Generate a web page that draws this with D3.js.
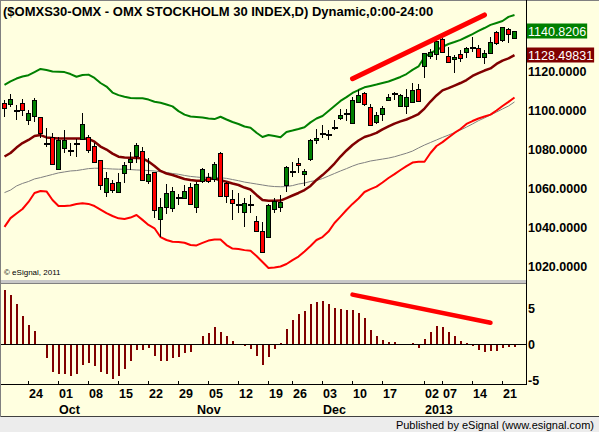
<!DOCTYPE html>
<html>
<head>
<meta charset="utf-8">
<script src="https://cdn.jsdelivr.net/npm/d3@7"></script>
<style>
html, body { margin: 0; padding: 0; background: #fff; }
svg { display: block; font-family: "Liberation Sans", Arial, sans-serif; }
</style>
</head>
<body>
<svg id="chart" width="599" height="432"></svg>
<script>
// trading days shown on the chart
const dates = [
  "2012-09-18","2012-09-19","2012-09-20","2012-09-21",
  "2012-09-24","2012-09-25","2012-09-26","2012-09-27","2012-09-28",
  "2012-10-01","2012-10-02","2012-10-03","2012-10-04","2012-10-05",
  "2012-10-08","2012-10-09","2012-10-10","2012-10-11","2012-10-12",
  "2012-10-15","2012-10-16","2012-10-17","2012-10-18","2012-10-19",
  "2012-10-22","2012-10-23","2012-10-24","2012-10-25","2012-10-26",
  "2012-10-29","2012-10-30","2012-10-31","2012-11-01","2012-11-02",
  "2012-11-05","2012-11-06","2012-11-07","2012-11-08","2012-11-09",
  "2012-11-12","2012-11-13","2012-11-14","2012-11-15","2012-11-16",
  "2012-11-19","2012-11-20","2012-11-21","2012-11-23",
  "2012-11-26","2012-11-27","2012-11-28","2012-11-29","2012-11-30",
  "2012-12-03","2012-12-04","2012-12-05","2012-12-06","2012-12-07",
  "2012-12-10","2012-12-11","2012-12-12","2012-12-13","2012-12-14",
  "2012-12-17","2012-12-18","2012-12-19","2012-12-20","2012-12-21",
  "2012-12-27","2012-12-28",
  "2013-01-02","2013-01-03","2013-01-04",
  "2013-01-07","2013-01-08","2013-01-09","2013-01-10","2013-01-11",
  "2013-01-14","2013-01-15","2013-01-16","2013-01-17","2013-01-18",
  "2013-01-21","2013-01-22","2013-01-23"
];

const opens = [
  1104.0,1103.4,1100.9,1104.1,1095.2,1097.3,1096.6,1083.7,1086.7,1069.9,
  1080.7,1079.9,1083.7,1085.5,1086.7,1081.9,1074.7,1058.3,1063.1,1058.5,
  1068.2,1073.8,1076.9,1079.3,1064.1,1068.4,1044.3,1050.5,1050.5,1055.7,
  1055.6,1061.0,1050.5,1063.6,1066.2,1064.8,1078.2,1062.8,1054.6,1052.2,
  1048.2,1052.2,1043.6,1038.5,1035.4,1049.9,1050.8,1062.3,1069.3,1073.0,
  1067.9,1075.1,1084.6,1088.8,1088.5,1091.9,1096.1,1098.8,1093.8,1104.6,
  1109.2,1102.1,1094.4,1098.3,1105.8,1109.3,1102.4,1102.4,1104.6,1111.0,
  1122.6,1128.1,1129.1,1136.6,1128.1,1126.4,1129.1,1129.7,1132.9,1132.0,
  1127.4,1129.7,1140.5,1135.9,1141.7,1137.1
];
const highs = [
  1105.5,1108.4,1102.9,1105.8,1100.4,1106.4,1096.8,1091.0,1088.4,1086.4,
  1090.1,1083.3,1085.3,1098.7,1087.5,1083.3,1074.9,1068.7,1064.5,1067.9,
  1073.8,1079.0,1083.3,1081.5,1075.6,1068.7,1055.1,1062.4,1061.0,1057.3,
  1061.9,1063.1,1063.6,1070.5,1067.9,1073.8,1079.0,1063.6,1059.3,1057.6,
  1055.1,1056.8,1046.0,1043.1,1052.1,1055.1,1056.8,1071.6,1073.8,1075.6,
  1069.9,1085.3,1090.5,1092.7,1090.1,1095.2,1100.7,1100.7,1106.9,1110.6,
  1109.7,1103.4,1099.5,1102.4,1108.6,1109.7,1108.6,1111.0,1114.0,1113.7,
  1129.7,1131.5,1136.6,1137.1,1132.8,1128.6,1131.1,1132.8,1137.6,1133.7,
  1131.1,1137.6,1141.0,1143.1,1142.3,1141.0
];
const lows = [
  1096.6,1102.0,1095.2,1097.3,1092.7,1094.4,1085.8,1081.2,1072.1,1069.7,
  1078.2,1076.8,1076.4,1085.0,1078.5,1073.3,1059.3,1055.9,1057.6,1058.3,
  1063.1,1069.6,1073.0,1064.3,1062.4,1044.8,1035.4,1047.0,1048.2,1051.6,
  1054.6,1052.1,1047.7,1062.8,1063.1,1063.6,1056.2,1052.8,1043.9,1047.7,
  1040.5,1047.4,1037.9,1026.9,1035.1,1047.7,1048.2,1058.5,1065.8,1068.2,
  1061.4,1074.4,1082.9,1085.8,1085.0,1090.1,1095.2,1094.9,1093.2,1103.8,
  1102.4,1092.2,1093.2,1094.9,1105.5,1105.5,1102.1,1098.3,1104.1,1104.6,
  1116.6,1126.4,1126.0,1129.4,1124.3,1119.2,1125.1,1126.9,1130.3,1126.9,
  1123.9,1129.4,1133.7,1135.4,1134.9,1136.6
];
const closes = [
  1101.2,1105.8,1100.6,1100.4,1099.0,1105.5,1088.4,1083.5,1072.7,1085.0,
  1085.0,1079.7,1083.5,1093.0,1080.2,1073.8,1061.9,1065.3,1059.3,1063.6,
  1072.2,1075.2,1082.4,1064.5,1067.5,1048.7,1050.5,1057.6,1059.0,1055.5,
  1059.0,1052.5,1062.3,1069.9,1064.1,1072.7,1056.3,1055.9,1052.5,1052.0,
  1052.8,1052.0,1038.5,1027.7,1051.6,1053.8,1053.3,1071.3,1069.1,1071.8,
  1069.2,1085.0,1085.8,1088.6,1088.3,1091.7,1097.8,1098.6,1105.5,1108.0,
  1103.4,1092.7,1097.8,1101.2,1107.2,1109.1,1108.0,1107.2,1110.6,1105.1,
  1129.4,1130.3,1135.9,1129.7,1125.1,1127.4,1126.9,1132.0,1132.7,1127.4,
  1129.7,1135.4,1134.9,1142.8,1139.3,1140.8206
];

// Bollinger bands and the slower average
const upperBand = [
  1113.2,1115.0,1116.5,1117.5,1118.2,1119.8,1121.4,1120.9,1120.1,1120.0,
  1119.8,1118.8,1117.4,1118.3,1118.5,1116.8,1114.2,1112.4,1109.3,1108.0,
  1107.2,1106.5,1106.4,1106.4,1105.7,1104.6,1104.1,1103.2,1102.2,1099.8,
  1098.0,1097.0,1096.8,1096.5,1096.0,1095.7,1096.9,1095.5,1094.2,1093.2,
  1091.9,1091.3,1088.7,1086.5,1087.5,1087.0,1086.4,1089.1,1089.8,1090.6,
  1091.5,1094.0,1096.0,1097.3,1099.8,1102.4,1105.0,1107.0,1109.1,1110.6,
  1112.0,1112.7,1113.4,1114.2,1115.0,1116.1,1117.3,1118.8,1120.9,1122.7,
  1127.5,1129.6,1131.1,1132.7,1134.2,1135.2,1136.3,1137.8,1139.3,1140.9,
  1142.4,1144.0,1145.0,1146.0,1148.1,1149.1
];
const midBand = [
  1076.5,1078.3,1081.1,1083.4,1085.0,1087.0,1087.5,1086.3,1086.0,1085.8,
  1085.8,1085.8,1085.8,1085.8,1085.5,1084.1,1081.6,1080.1,1078.0,1076.4,
  1076.0,1075.9,1075.7,1075.6,1073.9,1071.6,1069.1,1067.8,1067.0,1066.0,
  1065.0,1064.5,1064.1,1064.1,1065.0,1065.2,1064.3,1063.6,1062.7,1061.9,
  1060.6,1059.6,1056.8,1054.2,1053.8,1053.8,1053.9,1055.2,1056.5,1057.8,
  1059.3,1061.4,1064.5,1067.0,1069.8,1072.9,1076.5,1079.6,1082.4,1084.7,
  1086.5,1087.5,1088.6,1090.4,1091.9,1093.4,1094.5,1095.5,1096.8,1098.3,
  1101.1,1104.7,1107.8,1110.4,1111.6,1112.9,1114.2,1115.7,1117.8,1119.3,
  1120.6,1121.7,1124.0,1125.7,1126.8,1128.49831
];
const lowerBand = [
  1040.4,1044.9,1047.3,1049.6,1053.2,1057.8,1058.8,1058.6,1054.2,1051.1,
  1051.1,1051.4,1052.2,1052.5,1052.2,1051.1,1049.3,1047.5,1046.0,1044.8,
  1044.5,1045.2,1046.5,1044.0,1041.4,1039.7,1035.2,1033.7,1032.8,1032.7,
  1032.3,1031.1,1030.9,1032.2,1033.4,1034.0,1034.0,1031.1,1029.3,1029.1,
  1028.5,1028.2,1025.5,1022.4,1019.3,1019.6,1020.1,1021.4,1023.4,1025.2,
  1027.8,1030.6,1033.7,1035.2,1038.0,1042.4,1045.7,1049.1,1052.2,1055.0,
  1058.3,1059.8,1061.1,1063.2,1065.5,1067.5,1069.6,1071.6,1073.4,1073.8,
  1073.8,1078.3,1081.9,1083.9,1086.3,1088.6,1090.6,1093.2,1094.7,1096.0,
  1097.0,1098.0,1100.1,1102.4,1104.5,1106.8
];
const slowMA = [
  1058.0,1059.3,1061.4,1062.7,1063.7,1065.0,1065.7,1066.5,1067.3,1068.1,
  1068.6,1069.1,1069.3,1069.8,1070.3,1070.5,1070.5,1070.3,1070.1,1070.0,
  1070.0,1069.8,1069.6,1069.5,1069.3,1069.1,1068.7,1068.3,1067.8,1067.4,
  1066.8,1066.3,1066.0,1065.7,1066.0,1065.7,1065.6,1065.3,1064.7,1064.1,
  1063.4,1062.9,1062.4,1061.9,1061.4,1061.1,1061.0,1061.1,1061.6,1062.4,
  1062.9,1063.7,1064.2,1065.2,1066.5,1067.8,1069.1,1070.3,1071.6,1072.7,
  1073.4,1074.2,1074.7,1075.2,1075.7,1076.4,1077.3,1078.2,1079.3,1080.9,
  1082.4,1083.7,1085.0,1086.3,1087.5,1088.8,1090.1,1091.6,1093.2,1094.9,
  1096.3,1097.8,1099.3,1100.9,1102.4,1104.5
];

// lower panel oscillator
const histo = [
  7.6,6.9,5.6,4.0,2.7,1.8,-0.2,-2.0,-3.9,-4.2,
  -4.2,-4.4,-4.1,-2.85,-2.7,-3.0,-3.9,-4.2,-4.8,-4.5,
  -3.5,-2.3,-0.8,-0.8,-0.5,-1.7,-2.4,-2.3,-2.0,-1.85,
  -1.3,-1.15,-0.2,1.15,1.6,2.4,1.7,1.15,0.45,0.05,
  -0.3,-0.65,-1.6,-2.95,-1.85,-0.65,0.2,2.1,3.35,4.2,
  4.6,5.55,5.85,6.0,5.55,5.1,4.95,4.7,4.7,4.4,
  3.6,2.0,1.15,0.6,0.4,0.3,0.1,0.0,0.2,-0.5,
  0.8,1.65,2.55,2.35,1.65,1.15,0.45,0.2,-0.25,-0.9,
  -1.15,-1.0,-1.0,-0.55,-0.45,-0.35
];

// hand drawn trend lines
const trendPriceDates = ["2012-12-10", "2013-01-16"];
const trendPriceVals = [1116.4, 1149.1];
const trendOscDates = ["2012-12-10", "2013-01-17"];
const trendOscVals = [6.9, 3.0];

// axis ticks
const priceTicks = [1020, 1040, 1060, 1080, 1100, 1120];
const oscTicks = [5, 0, -5];
const dayTicks = ["2012-09-24","2012-10-01","2012-10-08","2012-10-15","2012-10-22","2012-10-29",
  "2012-11-05","2012-11-12","2012-11-19","2012-11-26","2012-12-03","2012-12-10","2012-12-17",
  "2013-01-02","2013-01-07","2013-01-14","2013-01-21"];
const monthTicks = ["2012-10-01","2012-11-01","2012-12-03","2013-01-02"];
const monthLabels = ["Oct","Nov","Dec","2013"];

const svg = d3.select("#chart");
const W = 599, H = 432;
const plotR = 526;

const x = d3.scalePoint().domain(dates).range([4.5, 514.5]);
const y = d3.scaleLinear().domain([1020, 1120]).range([266.7, 71.7]);
const yo = d3.scaleLinear().domain([-5, 5]).range([380.5, 308.3]);

// background
svg.append("rect").attr("width", W).attr("height", H).attr("fill", "#ffffe0");
svg.append("rect").attr("x", 0).attr("y", 417).attr("width", W).attr("height", 15).attr("fill", "#ececec");
svg.append("line").attr("x1", 0).attr("x2", W).attr("y1", 416.5).attr("y2", 416.5)
  .attr("stroke", "#404040").attr("shape-rendering", "crispEdges");
svg.append("line").attr("x1", 0.5).attr("x2", 0.5).attr("y1", 0).attr("y2", 417)
  .attr("stroke", "#808080").attr("shape-rendering", "crispEdges");
svg.append("line").attr("x1", 0).attr("x2", W).attr("y1", 0.5).attr("y2", 0.5)
  .attr("stroke", "#808080").attr("shape-rendering", "crispEdges");

// panel separator
svg.append("rect").attr("x", 1).attr("y", 280).attr("width", plotR - 1).attr("height", 3).attr("fill", "#c8c8c8");
svg.append("line").attr("x1", 1).attr("x2", plotR).attr("y1", 283.5).attr("y2", 283.5)
  .attr("stroke", "#808080").attr("shape-rendering", "crispEdges");

svg.append("clipPath").attr("id", "mainClip")
  .append("rect").attr("x", 1).attr("y", 1).attr("width", plotR - 1).attr("height", 279);

const main = svg.append("g").attr("clip-path", "url(#mainClip)");

// lines
function drawLine(vals, color, width) {
  const line = d3.line().x((d, i) => x(dates[i])).y(d => y(d));
  main.append("path").datum(vals)
    .attr("d", line)
    .attr("fill", "none")
    .attr("stroke", color)
    .attr("stroke-width", width)
    .attr("stroke-linejoin", "round");
}
drawLine(slowMA, "#808080", 1);
drawLine(upperBand, "#008000", 2);
drawLine(lowerBand, "#ff0000", 2);
drawLine(midBand, "#800000", 2.5);

// candles
const bars = dates.map((d, i) => ({ d: d, o: opens[i], h: highs[i], l: lows[i], c: closes[i] }));
const candle = main.append("g").selectAll("g").data(bars).join("g");
candle.append("line")
  .attr("x1", d => x(d.d)).attr("x2", d => x(d.d))
  .attr("y1", d => Math.round(y(d.h))).attr("y2", d => Math.round(y(d.l)))
  .attr("stroke", "#000").attr("shape-rendering", "crispEdges");
candle.filter(d => Math.abs(d.c - d.o) >= 0.5).append("rect")
  .attr("x", d => x(d.d) - 2)
  .attr("y", d => Math.round(y(Math.max(d.o, d.c))) + 0.5)
  .attr("width", 4)
  .attr("height", d => Math.max(1, Math.round(Math.abs(y(d.o) - y(d.c)))))
  .attr("fill", d => d.c > d.o ? "#008000" : "#ff0000")
  .attr("stroke", "#000").attr("shape-rendering", "crispEdges");
candle.filter(d => Math.abs(d.c - d.o) < 0.5).append("line")
  .attr("x1", d => x(d.d) - 2.5).attr("x2", d => x(d.d) + 3)
  .attr("y1", d => Math.round(y(d.c)) + 0.5).attr("y2", d => Math.round(y(d.c)) + 0.5)
  .attr("stroke", "#000").attr("stroke-width", 2).attr("shape-rendering", "crispEdges");

// trend line on price
main.append("path")
  .datum(trendPriceDates.map((d, i) => [x(d), y(trendPriceVals[i])]))
  .attr("d", d3.line())
  .attr("stroke", "#ff0000").attr("stroke-width", 5).attr("stroke-linecap", "round").attr("fill", "none");

main.append("text").attr("x", 4).attr("y", 275)
  .attr("font-size", 8).attr("fill", "#000").text("\u00a9 eSignal, 2011");

// title
svg.append("text").attr("x", 3).attr("y", 16)
  .attr("font-size", 13).attr("font-weight", "bold").attr("fill", "#000")
  .text("($OMXS30-OMX - OMX STOCKHOLM 30 INDEX,D) Dynamic,0:00-24:00");

// oscillator panel
const osc = svg.append("g");
osc.selectAll("rect").data(histo).join("rect")
  .attr("x", (d, i) => x(dates[i]) - 1)
  .attr("y", d => Math.round(yo(Math.max(0, d))))
  .attr("width", 2)
  .attr("height", d => Math.round(Math.abs(yo(d) - yo(0))))
  .attr("fill", "#800000").attr("shape-rendering", "crispEdges");
osc.append("line").attr("x1", 1).attr("x2", plotR).attr("y1", Math.round(yo(0)) + 0.5).attr("y2", Math.round(yo(0)) + 0.5)
  .attr("stroke", "#000").attr("shape-rendering", "crispEdges");
osc.append("path")
  .datum(trendOscDates.map((d, i) => [x(d), yo(trendOscVals[i])]))
  .attr("d", d3.line())
  .attr("stroke", "#ff0000").attr("stroke-width", 4.5).attr("stroke-linecap", "round").attr("fill", "none");

// bottom axis line and ticks
svg.append("line").attr("x1", 1).attr("x2", plotR).attr("y1", 384.5).attr("y2", 384.5)
  .attr("stroke", "#000").attr("shape-rendering", "crispEdges");
svg.append("g").selectAll("line").data(dayTicks).join("line")
  .attr("x1", d => x(d)).attr("x2", d => x(d)).attr("y1", 381).attr("y2", 384)
  .attr("stroke", "#000").attr("shape-rendering", "crispEdges");
svg.append("g").selectAll("text").data(dayTicks).join("text")
  .attr("x", d => x(d) + 0.5).attr("y", 397.5)
  .attr("font-size", 12.5).attr("font-weight", "bold").attr("fill", "#000")
  .text(d => d.slice(8, 10));
svg.append("g").selectAll("text").data(monthTicks).join("text")
  .attr("x", d => x(d) + 0.5).attr("y", 413.5)
  .attr("font-size", 12.5).attr("font-weight", "bold").attr("fill", "#000")
  .text((d, i) => monthLabels[i]);

// right axis line
svg.append("line").attr("x1", plotR + 0.5).attr("x2", plotR + 0.5).attr("y1", 0).attr("y2", 385)
  .attr("stroke", "#000").attr("shape-rendering", "crispEdges");

// price labels
svg.append("g").selectAll("text").data(priceTicks).join("text")
  .attr("x", 528).attr("y", d => y(d)).attr("dy", "0.36em")
  .attr("font-size", 12.5).attr("font-weight", "bold").attr("fill", "#000")
  .text(d => d.toFixed(4));
svg.append("g").selectAll("text").data(oscTicks).join("text")
  .attr("x", 528).attr("y", d => yo(d)).attr("dy", "0.36em")
  .attr("font-size", 12.5).attr("font-weight", "bold").attr("fill", "#000")
  .text(d => d);

// last value flags
function flag(val, fill) {
  const g = svg.append("g");
  const r = g.append("rect").attr("x", 527).attr("y", Math.round(y(val)) - 7.5).attr("height", 15).attr("fill", fill);
  const t = g.append("text").attr("x", 528).attr("y", y(val)).attr("dy", "0.36em")
    .attr("font-size", 12.5).attr("fill", "#fff").text(String(val));
  r.attr("width", t.node().getComputedTextLength() + 2);
}
flag(closes[closes.length - 1], "#008000");
flag(midBand[midBand.length - 1], "#800000");

// footer
svg.append("text").attr("x", 594).attr("y", 428.5).attr("text-anchor", "end")
  .attr("font-size", 11).attr("fill", "#000").text("Published by eSignal (www.esignal.com)");
</script>
</body>
</html>
